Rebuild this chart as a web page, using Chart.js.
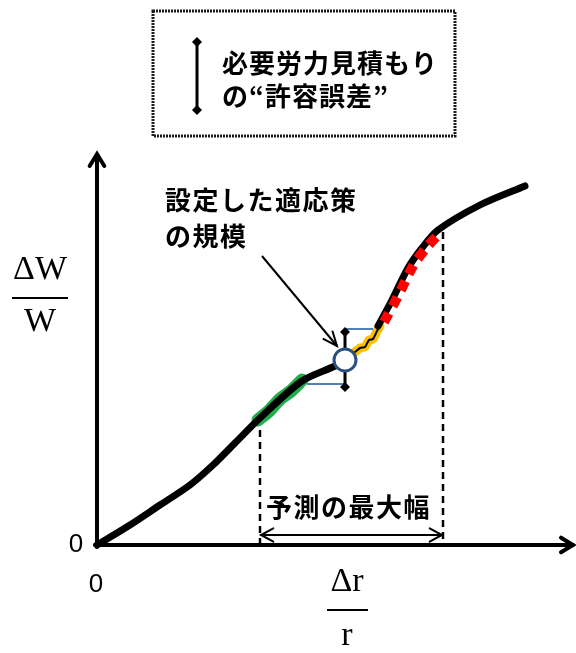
<!DOCTYPE html>
<html>
<head>
<meta charset="utf-8">
<script src="https://cdn.jsdelivr.net/npm/chart.js@4.4.1/dist/chart.umd.min.js"></script>
<style>
  html, body { margin: 0; padding: 0; background: #fff; }
  canvas { display: block; }
</style>
</head>
<body>
<canvas id="schemeChart" width="576" height="653"></canvas>
<script>
// 曲線データ (x = Δr/r, y = ΔW/W, 任意単位)
const curveLowX = [0, 33, 63, 93, 116, 138, 163, 205, 238, 248];
const curveLowY = [0, 20, 40, 60, 80, 102, 127, 164, 179, 185];
const curveHighX = [281, 295, 311, 325, 341, 383, 428];
const curveHighY = [219, 245, 277, 297, 315, 340, 359];

// 色付きの区間
const greenX = [161, 172, 183, 194, 205];
const greenY = [125, 134, 146, 154, 165];
const wiggleX = [258, 263, 268, 272, 276, 280, 283];
const wiggleY = [193, 197, 198, 205, 206, 214, 219];
const redX = [287, 301, 316, 330, 340];
const redY = [223, 249, 279, 298, 309];

// 設定した適応策と許容誤差
const targetX = [248];
const targetY = [185];
const tolLowY = 158;
const tolHighY = 213;
const bandUpperX = [248, 276];
const bandUpperY = [216, 216];
const bandLowerX = [210, 248];
const bandLowerY = [161, 161];

// 予測の最大幅
const rangeX = [163, 346];
const rangeTopY = [127, 313];

const toPts = (xs, ys) => xs.map((x, i) => ({ x: x, y: ys[i] }));

function arrowHead(ctx, x, y, angle, len, spread) {
  ctx.beginPath();
  ctx.moveTo(x - len * Math.cos(angle - spread), y - len * Math.sin(angle - spread));
  ctx.lineTo(x, y);
  ctx.lineTo(x - len * Math.cos(angle + spread), y - len * Math.sin(angle + spread));
  ctx.stroke();
}

function diamond(ctx, x, y, r) {
  ctx.beginPath();
  ctx.moveTo(x, y - r);
  ctx.lineTo(x + r, y);
  ctx.lineTo(x, y + r);
  ctx.lineTo(x - r, y);
  ctx.closePath();
  ctx.fill();
}

function text(ctx, str, x, y, font, align, spacing) {
  ctx.font = font;
  ctx.textAlign = align || 'left';
  ctx.textBaseline = 'middle';
  ctx.letterSpacing = (spacing || 0) + 'px';
  ctx.fillText(str, x, y);
  ctx.letterSpacing = '0px';
}

const JP = '"Noto Sans CJK JP", sans-serif';
const SERIF = '"Liberation Serif", "DejaVu Serif", serif';

const schemePlugin = {
  id: 'scheme',
  beforeDatasetsDraw(chart) {
    const { ctx, chartArea: a, scales: { x, y } } = chart;
    ctx.save();
    ctx.strokeStyle = '#000';
    ctx.fillStyle = '#000';
    ctx.lineCap = 'round';

    // 軸
    ctx.lineWidth = 4;
    ctx.beginPath();
    ctx.moveTo(a.left, a.bottom + 2);
    ctx.lineTo(a.left, a.top);
    ctx.moveTo(a.left - 2, a.bottom);
    ctx.lineTo(a.right - 2, a.bottom);
    ctx.stroke();
    arrowHead(ctx, a.left, a.top - 1, -Math.PI / 2, 14, 0.55);
    arrowHead(ctx, a.right - 2, a.bottom, 0, 14, 0.55);

    // 予測の最大幅の破線
    ctx.lineWidth = 2.5;
    ctx.lineCap = 'butt';
    ctx.setLineDash([7, 5]);
    rangeX.forEach((v, i) => {
      ctx.beginPath();
      ctx.moveTo(x.getPixelForValue(v), y.getPixelForValue(rangeTopY[i]));
      ctx.lineTo(x.getPixelForValue(v), a.bottom);
      ctx.stroke();
    });
    ctx.setLineDash([]);

    // 両矢印
    const ay = a.bottom - 10;
    const xl = x.getPixelForValue(rangeX[0]);
    const xr = x.getPixelForValue(rangeX[1]);
    ctx.lineWidth = 2;
    ctx.lineCap = 'round';
    ctx.beginPath();
    ctx.moveTo(xl + 1, ay);
    ctx.lineTo(xr - 1, ay);
    ctx.stroke();
    arrowHead(ctx, xl + 1, ay, Math.PI, 14, 0.5);
    arrowHead(ctx, xr - 1, ay, 0, 14, 0.5);
    ctx.restore();
  },
  afterDatasetsDraw(chart) {
    const { ctx, chartArea: a, scales: { x, y } } = chart;
    ctx.save();
    ctx.fillStyle = '#000';
    ctx.strokeStyle = '#000';

    // 凡例ボックス
    ctx.lineWidth = 3;
    ctx.strokeStyle = '#1a1a1a';
    ctx.setLineDash([2, 1]);
    ctx.strokeRect(153, 11, 302, 125);
    ctx.setLineDash([]);
    ctx.strokeStyle = '#000';
    ctx.lineWidth = 3;
    ctx.beginPath();
    ctx.moveTo(197, 42);
    ctx.lineTo(197, 110);
    ctx.stroke();
    diamond(ctx, 197, 42, 5);
    diamond(ctx, 197, 110, 5);
    text(ctx, '必要労力見積もり', 222, 63, 'bold 26px ' + JP, 'left', 1);
    text(ctx, 'の“許容誤差”', 222, 96, 'bold 26px ' + JP, 'left', 1);

    // 設定した適応策の規模
    text(ctx, '設定した適応策', 165, 200, 'bold 26px ' + JP, 'left', 1.5);
    text(ctx, 'の規模', 165, 236, 'bold 26px ' + JP, 'left', 1.5);
    const cx = x.getPixelForValue(targetX[0]);
    const cy = y.getPixelForValue(targetY[0]);
    ctx.lineWidth = 2;
    ctx.beginPath();
    ctx.moveTo(262, 256);
    ctx.lineTo(cx - 8, cy - 14);
    ctx.stroke();
    arrowHead(ctx, cx - 8, cy - 14, Math.atan2(cy - 14 - 256, cx - 8 - 262), 16, 0.4);

    // 予測の最大幅
    text(ctx, '予測の最大幅', 266, 507, 'bold 26px ' + JP, 'left', 1.5);

    // 0 の目盛
    text(ctx, '0', a.left - 21, a.bottom, '26px "Liberation Sans", Arial, sans-serif', 'center');
    text(ctx, '0', a.left - 1, a.bottom + 40, '26px "Liberation Sans", Arial, sans-serif', 'center');

    // 軸ラベル (分数)
    text(ctx, 'ΔW', 40, 270, '34px ' + SERIF, 'center');
    ctx.lineWidth = 2;
    ctx.beginPath();
    ctx.moveTo(12, 298);
    ctx.lineTo(68, 298);
    ctx.stroke();
    text(ctx, 'W', 40, 322, '34px ' + SERIF, 'center');

    text(ctx, 'Δr', 347, 582, '34px ' + SERIF, 'center');
    ctx.beginPath();
    ctx.moveTo(327, 610);
    ctx.lineTo(368, 610);
    ctx.stroke();
    text(ctx, 'r', 347, 636, '34px ' + SERIF, 'center');
    ctx.restore();
  }
};

const lineSet = (data, color, width, order, extra) => Object.assign({
  data: data,
  showLine: true,
  borderColor: color,
  borderWidth: width,
  pointRadius: 0,
  tension: 0.3,
  clip: false,
  order: order,
  borderCapStyle: 'round',
  borderJoinStyle: 'round'
}, extra || {});

const ctx = document.getElementById('schemeChart').getContext('2d');
const schemeChart = new Chart(ctx, {
  type: 'scatter',
  data: {
    datasets: [
      lineSet(toPts(greenX, greenY), '#1fae4a', 13, 9),
      lineSet(toPts(curveLowX, curveLowY), '#000', 7, 8),
      lineSet(toPts(wiggleX, wiggleY), '#ffc000', 9, 7, { tension: 0.2 }),
      lineSet(toPts(wiggleX, wiggleY), '#000', 2, 6, { tension: 0.2 }),
      lineSet(toPts(curveHighX, curveHighY), '#000', 7, 5),
      lineSet(toPts(redX, redY), '#ff0000', 10, 4, { borderDash: [10, 8], borderCapStyle: 'butt' }),
      lineSet(toPts(bandUpperX, bandUpperY), '#4f81bd', 2, 3, { tension: 0, borderCapStyle: 'butt' }),
      lineSet(toPts(bandLowerX, bandLowerY), '#4f81bd', 2, 3, { tension: 0, borderCapStyle: 'butt' }),
      lineSet([{ x: targetX[0], y: tolLowY }, { x: targetX[0], y: tolHighY }], '#000', 3, 2, {
        tension: 0, pointRadius: 5, pointStyle: 'rectRot', pointBackgroundColor: '#000', pointBorderWidth: 0
      }),
      {
        data: toPts(targetX, targetY),
        pointRadius: 11,
        pointBackgroundColor: '#fff',
        pointBorderColor: '#2b4f7e',
        pointBorderWidth: 3,
        clip: false,
        order: 1
      }
    ]
  },
  options: {
    responsive: false,
    animation: false,
    events: [],
    layout: { autoPadding: false, padding: { left: 97, right: 1, top: 155, bottom: 108 } },
    plugins: { legend: { display: false }, tooltip: { enabled: false } },
    scales: {
      x: { type: 'linear', min: 0, max: 478, display: false },
      y: { type: 'linear', min: 0, max: 390, display: false }
    }
  },
  plugins: [schemePlugin]
});
</script>
</body>
</html>
